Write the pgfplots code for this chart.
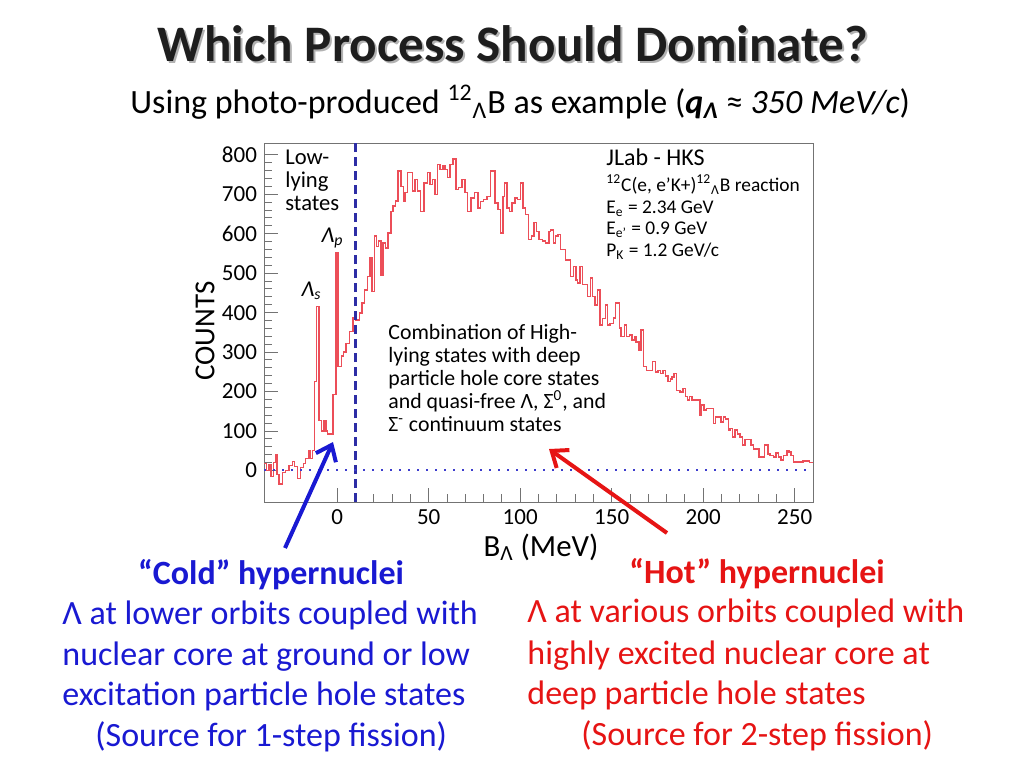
\documentclass[border=0pt]{standalone}
\usepackage{pgfplots}
\pgfplotsset{compat=1.18}
\usepackage{fontspec}
\setmainfont{Carlito}
\usetikzlibrary{arrows.meta}
\definecolor{histred}{RGB}{236,78,88}
\definecolor{navyline}{RGB}{45,45,165}
\definecolor{dotblue}{RGB}{60,60,205}
\definecolor{txtblue}{RGB}{25,25,210}
\definecolor{txtred}{RGB}{230,20,20}
\definecolor{titlegray}{RGB}{30,30,30}
\begin{document}
\begin{tikzpicture}
\begin{scope}[x=0.5pt,y=-0.5pt]
\fill[white] (0,0) rectangle (1024,768);
\end{scope}
\begin{axis}[
  at={(132pt,-251pt)}, anchor=south west,
  scale only axis, width=274.5pt, height=179.5pt,
  xmin=-40, xmax=260, ymin=-80, ymax=830,
  xtick={0,50,...,250}, ytick={0,100,...,800},
  minor x tick num=4, minor y tick num=4,
  tick align=inside, xtick pos=left, ytick pos=left,
  major tick length=7pt, minor tick length=4pt,
  axis line style={draw=black!55, line width=0.5pt},
  tick style={black!55, line width=0.5pt},
  ticklabel style={font=\fontsize{11.5}{14}\selectfont, black},
  /pgf/number format/assume math mode=true,
]
\addplot[histred, line width=0.75pt, const plot mark left] coordinates {
(-40.0,17) (-38.6,0) (-37.3,15) (-36.1,-15) (-34.8,20) (-33.7,41) (-32.8,-10) (-31.9,-34)
(-30.0,-5) (-28.2,0) (-26.4,13) (-24.5,23) (-23.3,10) (-21.8,-21) (-20.0,8) (-18.5,17)
(-17.3,30) (-15.5,51) (-14.5,30) (-13.6,51) (-12.3,225) (-11.2,415) (-9.9,127) (-8.6,100)
(-7.1,125) (-6.2,100) (-5.3,92) (-2.2,193) (-0.7,551) (0.5,263) (2.3,290) (3.5,300)
(4.9,322) (6.8,352) (8.6,386) (10.4,382) (12.3,399) (13.5,424) (15.0,458) (16.5,492)
(17.8,539) (19.0,454) (20.5,594) (21.4,568) (22.7,581) (23.8,496) (25.1,576) (26.4,564)
(27.8,602) (29.3,657) (30.6,670) (31.9,683) (33.3,759) (34.8,720) (36.1,683) (37.0,704)
(38.3,755) (41.2,708) (42.5,738) (43.9,708) (45.6,657) (47.4,729) (49.3,755) (50.7,725)
(52.2,738) (53.5,700) (54.7,776) (56.2,763) (57.7,772) (58.9,763) (60.2,742) (61.7,776)
(63.2,789) (65.0,712) (66.3,717) (68.1,738) (69.9,704) (71.2,657) (73.1,690) (75.1,704)
(77.0,665) (78.2,682) (80.0,687) (81.9,695) (83.7,759) (86.1,678) (87.9,661) (89.2,602)
(90.5,695) (91.5,729) (92.9,665) (94.1,657) (95.6,678) (97.1,691) (98.4,687) (100.2,729)
(101.5,665) (102.9,649) (104.4,585) (106.2,594) (107.5,628) (108.8,606) (110.3,585) (112.1,581)
(113.9,576) (115.7,606) (116.6,610) (118.1,576) (119.4,594) (120.6,598) (122.1,560) (124.8,534)
(127.6,492) (129.0,517) (130.4,483) (131.3,475) (132.8,517) (134.0,471) (136.8,441) (138.3,488)
(139.5,441) (140.8,420) (142.3,458) (143.7,369) (145.0,385) (146.5,420) (147.8,369) (149.1,373)
(150.9,386) (152.0,424) (154.2,361) (155.1,339) (157.0,369) (158.2,339) (159.7,343) (161.1,331)
(162.4,339) (163.4,326) (164.8,305) (166.1,356) (167.4,263) (168.9,254) (172.2,276) (174.0,250)
(175.3,254) (176.6,246) (178.0,254) (179.5,240) (180.8,225) (182.1,232) (183.0,237) (184.1,246)
(185.4,203) (187.2,199) (189.0,208) (190.3,187) (191.4,178) (192.6,187) (193.9,178) (198.2,140)
(199.1,166) (200.5,153) (201.8,157) (205.5,119) (206.8,136) (209.7,123) (211.0,136) (212.2,131)
(213.7,102) (214.6,106) (215.9,85) (217.4,102) (218.8,93) (220.1,85) (221.4,64) (222.9,78)
(226.2,64) (227.4,55) (230.6,34) (233.5,64) (235.3,42) (236.6,38) (238.4,34) (239.7,44)
(241.2,34) (242.6,27) (243.9,38) (245.8,51) (247.0,47) (248.1,38) (249.4,21) (254.4,24)
(258.0,20) (260.0,20)
};
\addplot[navyline, line width=1.1pt, dash pattern=on 4.5pt off 2.5pt] coordinates {(10,-80) (10,830)};
\addplot[dotblue, line width=1pt, dash pattern=on 0.9pt off 3.6pt] coordinates {(-40,0) (260,0)};
\end{axis}
\begin{scope}[x=0.5pt,y=-0.5pt]
% title
\node[anchor=base, font=\fontsize{25.6}{30}\selectfont\bfseries, text=black!30] at (515,63) {Which Process Should Dominate?};
\node[anchor=base, font=\fontsize{25.6}{30}\selectfont\bfseries, text=titlegray] at (513,61) {Which Process Should Dominate?};
\node[anchor=base west, font=\fontsize{17}{20}\selectfont, inner sep=0pt] at (130,113) {Using photo-produced \textsuperscript{12}\textsubscript{Λ}B as example (\textbf{\textit{q\textsubscript{Λ}}} ≈ \textit{350 MeV/c})};
% axis labels
\node[rotate=90, font=\fontsize{14.5}{17}\selectfont] at (205,331) {COUNTS};
\node[font=\fontsize{15.4}{18}\selectfont] at (541,547) {B\textsubscript{Λ} (MeV)};
% inside annotations
\begin{scope}[every node/.style={anchor=base west, inner sep=0pt, font=\fontsize{11.3}{13}\selectfont}]
\node at (285,164) {Low-};
\node at (285,187) {lying};
\node at (285,210) {states};
\node at (321,242) {\textit{Λ\textsubscript{p}}};
\node at (301,296) {\textit{Λ\textsubscript{s}}};
\end{scope}
\begin{scope}[every node/.style={anchor=base west, inner sep=0pt, font=\fontsize{9.7}{11}\selectfont}]
\node[font=\fontsize{12}{14}\selectfont] at (606,165) {JLab - HKS};
\node at (606,191) {\textsuperscript{12}C(e, e’K+)\textsuperscript{12}\textsubscript{Λ}B reaction};
\node at (606,213) {E\textsubscript{e} = 2.34 GeV};
\node at (606,234) {E\textsubscript{e’} = 0.9 GeV};
\node at (606,256) {P\textsubscript{K} = 1.2 GeV/c};
\end{scope}
\begin{scope}[every node/.style={anchor=base west, inner sep=0pt, font=\fontsize{10.9}{12}\selectfont}]
\node at (388,339) {Combination of High-};
\node at (388,362) {lying states with deep};
\node at (388,385) {particle hole core states};
\node at (388,408) {and quasi-free Λ, Σ\textsuperscript{0}, and};
\node at (388,431) {Σ\textsuperscript{-} continuum states};
\end{scope}
% arrows
\draw[txtblue, line width=2pt, -{Straight Barb[length=7pt,width=11pt]}] (285,548) -- (333,442);
\draw[txtred, line width=2pt, -{Straight Barb[length=7pt,width=11pt]}] (667,533) -- (549,449);
% bottom texts
\begin{scope}[every node/.style={inner sep=0pt, font=\fontsize{17}{20}\selectfont}]
\node[anchor=base, text=txtblue, font=\fontsize{17}{20}\selectfont\bfseries] at (271,584) {“Cold” hypernuclei};
\node[anchor=base west, text=txtblue] at (62,624) {Λ at lower orbits coupled with};
\node[anchor=base west, text=txtblue] at (62,665) {nuclear core at ground or low};
\node[anchor=base west, text=txtblue] at (62,705) {excitation particle hole states};
\node[anchor=base west, text=txtblue] at (95,746) {(Source for 1-step fission)};
\node[anchor=base, text=txtred, font=\fontsize{17}{20}\selectfont\bfseries] at (757,583) {“Hot” hypernuclei};
\node[anchor=base west, text=txtred] at (527,622) {Λ at various orbits coupled with};
\node[anchor=base west, text=txtred] at (527,664) {highly excited nuclear core at};
\node[anchor=base west, text=txtred] at (527,704) {deep particle hole states};
\node[anchor=base west, text=txtred] at (581,745) {(Source for 2-step fission)};
\end{scope}
\end{scope}
\end{tikzpicture}
\end{document}
